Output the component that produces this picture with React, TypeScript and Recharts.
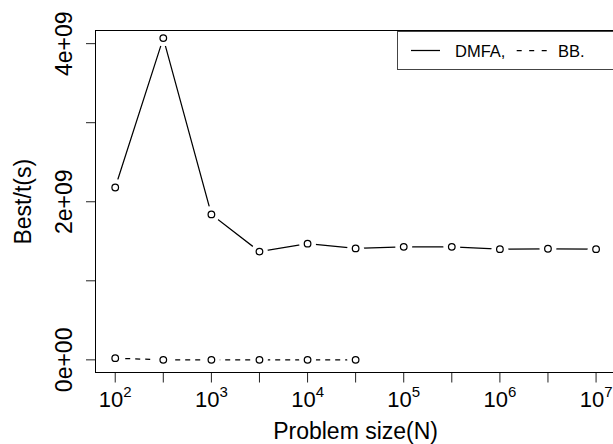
import React from 'react';
import { LineChart, Line, XAxis, YAxis, Legend } from 'recharts';

const problemSizes = [100, 316, 1000, 3160, 10000, 31600, 100000, 316000, 1000000, 3160000, 10000000];
const dmfaValues = [2.18e9, 4.07e9, 1.84e9, 1.37e9, 1.47e9, 1.41e9, 1.43e9, 1.43e9, 1.4e9, 1.405e9, 1.4e9];
const bbValues = [2.1e7, 0, 0, 0, 0, 0];
const seriesNames = ['DMFA,', 'BB.'];

const xTicks = [100, 316, 1000, 3160, 10000, 31600, 100000, 316000, 1000000, 3160000, 10000000];
const xTickExponents = ['2', '', '3', '', '4', '', '5', '', '6', '', '7'];
const yTicks = [0, 1e9, 2e9, 3e9, 4e9];
const yTickLabels = ['0e+00', '', '2e+09', '', '4e+09'];

const xTitle = 'Problem size(N)';
const yTitle = 'Best/t(s)';

const FONT = '"Liberation Sans", Arial, Helvetica, sans-serif';

const data = problemSizes.map((n, i) => ({
  n,
  dmfa: dmfaValues[i],
  bb: i < bbValues.length ? bbValues[i] : null,
}));

const XTick = (props: any) => {
  const { x, y, payload } = props;
  const idx = xTicks.indexOf(payload.value);
  const exp = idx >= 0 ? xTickExponents[idx] : '';
  if (!exp) return <g />;
  return (
    <text x={x} y={y + 24} textAnchor="middle" fontSize={22} fontFamily={FONT} fill="#000">
      <tspan>10</tspan>
      <tspan dy={-10} fontSize={15}>{exp}</tspan>
    </text>
  );
};

const YTick = (props: any) => {
  const { x, y, payload } = props;
  const idx = yTicks.indexOf(payload.value);
  const label = idx >= 0 ? yTickLabels[idx] : '';
  if (!label) return <g />;
  const bx = x - 14;
  return (
    <text
      x={bx}
      y={y}
      transform={`rotate(-90, ${bx}, ${y})`}
      textAnchor="middle"
      fontSize={23}
      fontFamily={FONT}
      fill="#000"
    >
      {label}
    </text>
  );
};

const makeDot = (key: string) => (props: any) => {
  const { cx, cy, index } = props;
  if (cx == null || cy == null || props.value == null) return <g key={`${key}-${index}`} />;
  return (
    <g key={`${key}-${index}`}>
      <circle cx={cx} cy={cy} r={8.5} fill="#fff" stroke="none" />
      <circle cx={cx} cy={cy} r={3.3} fill="#fff" stroke="#000" strokeWidth={1.25} />
    </g>
  );
};

const LegendBox = () => (
  <svg width={230} height={40} style={{ display: 'block' }}>
    <rect x={0.5} y={0.5} width={228} height={38} fill="#fff" stroke="#444" strokeWidth={1} />
    <line x1={14} x2={43} y1={19.5} y2={19.5} stroke="#000" strokeWidth={1.25} />
    <text x={58} y={26} fontSize={16.5} fontFamily={FONT} fill="#000">{seriesNames[0]}</text>
    <line x1={119.7} x2={149.7} y1={19.5} y2={19.5} stroke="#000" strokeWidth={1.25} strokeDasharray="5 7.5" />
    <text x={161} y={26} fontSize={16.5} fontFamily={FONT} fill="#000">{seriesNames[1]}</text>
  </svg>
);

export default function App() {
  return (
    <div style={{ position: 'absolute', left: 0, top: 0, width: 613, height: 444, background: '#fff' }}>
      <LineChart
        width={613}
        height={444}
        data={data}
        margin={{ top: 31, right: -2.3, bottom: 0, left: 0 }}
      >
        <XAxis
          dataKey="n"
          type="number"
          scale="log"
          domain={[Math.pow(10, 1.8), Math.pow(10, 7.2)]}
          allowDataOverflow
          ticks={xTicks}
          interval={0}
          tick={<XTick />}
          tickSize={10}
          tickMargin={0}
          tickLine={{ stroke: '#222', strokeWidth: 1 }}
          axisLine={false}
          height={71.5}
        />
        <YAxis
          type="number"
          domain={[-0.16e9, 4.16e9]}
          allowDataOverflow
          ticks={yTicks}
          interval={0}
          tick={<YTick />}
          tickSize={10}
          tickMargin={0}
          tickLine={{ stroke: '#222', strokeWidth: 1 }}
          axisLine={false}
          width={96}
        />
        <Legend
          content={<LegendBox />}
          layout="horizontal"
          verticalAlign="middle"
          align="center"
          wrapperStyle={{ left: 397, top: 31, width: 230, height: 40 }}
        />
        <Line
          dataKey="dmfa"
          name={seriesNames[0]}
          stroke="#000"
          strokeWidth={1.25}
          dot={makeDot('dmfa')}
          activeDot={false}
          isAnimationActive={false}
          type="linear"
        />
        <Line
          dataKey="bb"
          name={seriesNames[1]}
          stroke="#000"
          strokeWidth={1.25}
          strokeDasharray="5 5"
          dot={makeDot('bb')}
          activeDot={false}
          isAnimationActive={false}
          connectNulls={false}
          type="linear"
        />
      </LineChart>
      <svg
        width={613}
        height={444}
        style={{ position: 'absolute', left: 0, top: 0, pointerEvents: 'none' }}
      >
        <rect x={95.5} y={30.5} width={520} height={342} fill="none" stroke="#000" strokeWidth={1} />
        <text x={355.6} y={439} textAnchor="middle" fontSize={23} fontFamily={FONT} fill="#000">
          {xTitle}
        </text>
        <text
          x={31}
          y={201.7}
          transform="rotate(-90, 31, 201.7)"
          textAnchor="middle"
          fontSize={23}
          fontFamily={FONT}
          fill="#000"
        >
          {yTitle}
        </text>
      </svg>
    </div>
  );
}
